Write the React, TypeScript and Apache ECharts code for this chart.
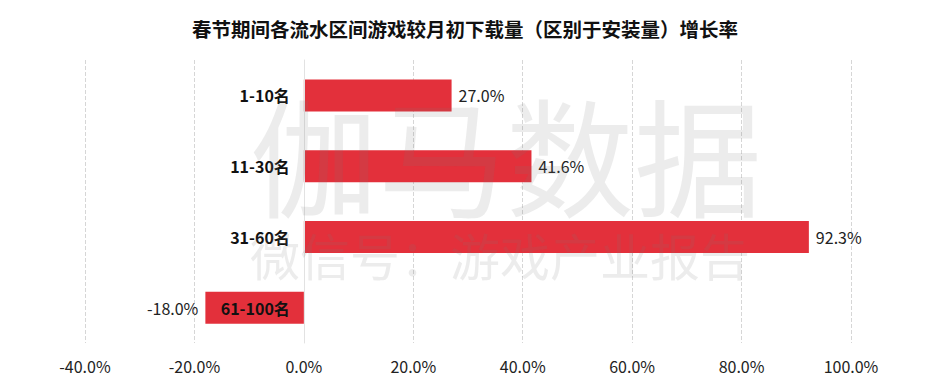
import React, { useEffect, useRef } from "react";
import * as echarts from "echarts";

const title = "春节期间各流水区间游戏较月初下载量（区别于安装量）增长率";
const categories = ["1-10名", "11-30名", "31-60名", "61-100名"];
const growth = [27.0, 41.6, 92.3, -18.0];
const xMin = -40;
const xMax = 100;
const xInterval = 20;
const watermarkMain = "伽马数据";
const watermarkSub = "微信号：游戏产业报告";

const FONT = "'Noto Sans CJK SC', 'Noto Sans', sans-serif";
const W = 930;
const H = 390;
const GRID_LEFT = 85;
const GRID_RIGHT = 79;

export default function App() {
  const ref = useRef<HTMLDivElement>(null);
  useEffect(() => {
    if (!ref.current) return;
    const chart = echarts.init(ref.current, undefined, { renderer: "svg" });
    const gridWidth = W - GRID_LEFT - GRID_RIGHT;
    const zeroOffset = -((0 - xMin) / (xMax - xMin)) * gridWidth;
    chart.setOption({
      animation: false,
      backgroundColor: "#ffffff",
      textStyle: { fontFamily: FONT },
      title: {
        text: title,
        left: "center",
        top: 14,
        textStyle: { fontFamily: FONT, fontSize: 19.5, fontWeight: "bold", color: "#111" },
      },
      grid: { left: GRID_LEFT, right: GRID_RIGHT, top: 60, bottom: 47, containLabel: false },
      xAxis: {
        type: "value",
        min: xMin,
        max: xMax,
        interval: xInterval,
        axisLine: { show: false },
        axisTick: { show: false },
        axisLabel: {
          formatter: (v: number) => v.toFixed(1) + "%",
          fontFamily: FONT,
          fontSize: 16,
          color: "#222",
          margin: 15,
        },
        splitLine: { show: true, lineStyle: { type: "dashed", color: "#d6d6d6", width: 1 } },
      },
      yAxis: {
        type: "category",
        data: categories,
        inverse: true,
        position: "left",
        offset: zeroOffset,
        z: 10,
        axisLine: { show: true, onZero: false, lineStyle: { color: "#e2e2e2", width: 1 } },
        axisTick: { show: false },
        axisLabel: {
          fontFamily: FONT,
          fontSize: 16,
          fontWeight: "bold",
          color: "#111",
          margin: 14,
          hideOverlap: false,
        },
      },
      series: [
        {
          type: "bar",
          z: 2,
          barWidth: 32,
          itemStyle: { color: "#e3303b" },
          data: growth.map((v) => ({
            value: v,
            label: {
              show: true,
              position: v >= 0 ? "right" : "left",
              distance: 7,
              formatter: (p: any) => Number(p.value).toFixed(1) + "%",
              fontFamily: FONT,
              fontSize: 16,
              color: "#222",
            },
          })),
        },
      ],
      graphic: [
        {
          type: "text",
          left: 250,
          top: 88,
          z: 100,
          silent: true,
          style: {
            text: watermarkMain,
            fontFamily: FONT,
            fontSize: 128,
            fill: "rgba(120,120,120,0.14)",
          },
        },
        {
          type: "text",
          left: 250,
          top: 229,
          z: 100,
          silent: true,
          style: {
            text: watermarkSub,
            fontFamily: FONT,
            fontSize: 50,
            fill: "rgba(120,120,120,0.14)",
          },
        },
      ],
    });
    return () => chart.dispose();
  }, []);
  return (
    <div
      ref={ref}
      style={{ position: "absolute", left: 0, top: 0, width: W, height: H }}
    />
  );
}
